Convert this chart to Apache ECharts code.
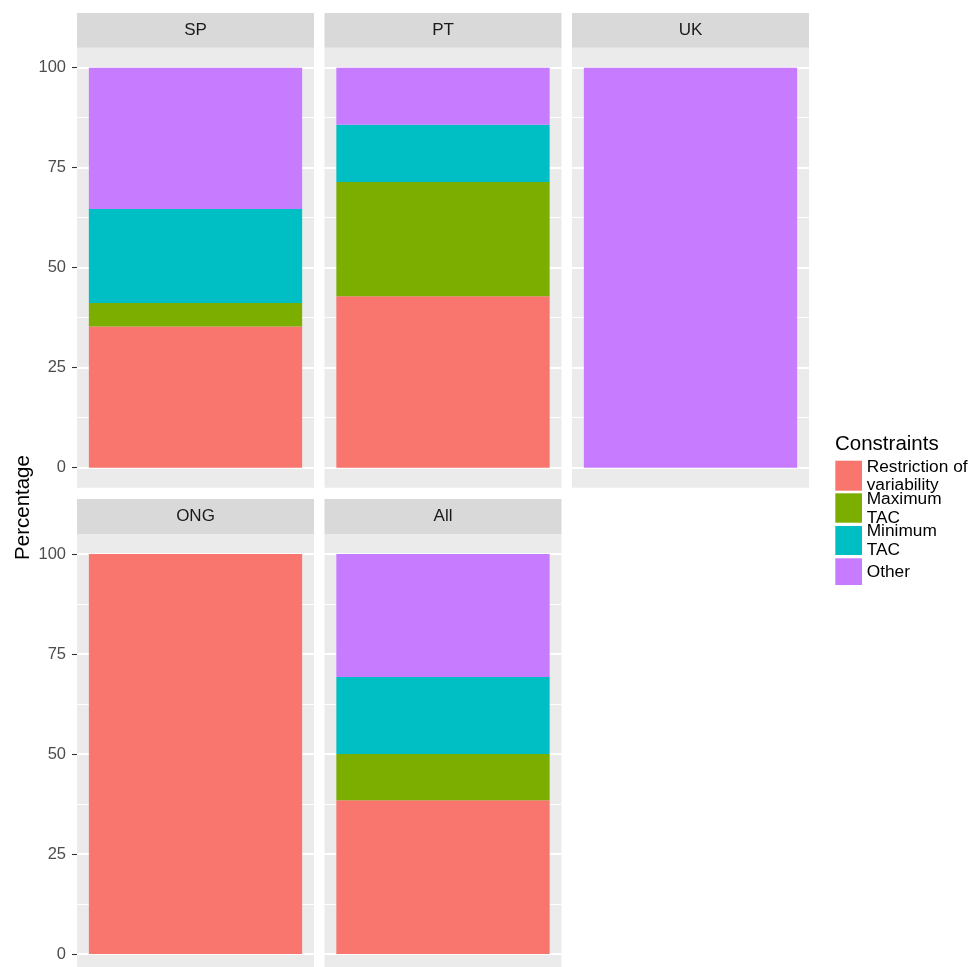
<!DOCTYPE html>
<html><head><meta charset="utf-8">
<script src="https://cdn.jsdelivr.net/npm/echarts@6/dist/echarts.min.js"></script>
<style>html,body{margin:0;padding:0;background:#fff}#c{width:975px;height:967px}</style>
</head><body><div id="c"></div>
<script>
// ---- data ----
const panels = ['SP', 'PT', 'UK', 'ONG', 'All'];
const constraints = ['Restriction of variability', 'Maximum TAC', 'Minimum TAC', 'Other'];
const legendLabels = ['Restriction of\nvariability', 'Maximum\nTAC', 'Minimum\nTAC', 'Other'];
const restriction = [35.29, 42.86, 0, 100, 38.46];
const maximumTAC  = [5.88, 28.57, 0, 0, 11.54];
const minimumTAC  = [23.53, 14.29, 0, 0, 19.23];
const other       = [35.29, 14.29, 100, 0, 30.77];
const majorTicks = [0, 25, 50, 75, 100];
const minorTicks = [12.5, 37.5, 62.5, 87.5];
const yTitle = 'Percentage';
const legendTitle = 'Constraints';

// ---- styling / layout ----
const colors = ['#F8766D', '#7CAE00', '#00BFC4', '#C77CFF'];
const seriesValues = [restriction, maximumTAC, minimumTAC, other];
const FONT = '"Liberation Sans", Arial, Helvetica, sans-serif';
const panelLeft = [77, 324.5, 572, 77, 324.5];
const panelTop = [47.7, 47.7, 47.7, 534, 534];
const panelH = [440, 440, 440, 433, 433];   // bottom row is cut by the page edge
const yMin = [-5, -5, -5, -3.25, -3.25];
const stripTop = [13, 13, 13, 499, 499];
const stripH = [34.7, 34.7, 34.7, 35, 35];
const panelW = 237;
const leftCol = [true, false, false, true, false];

const grids = [], xAxes = [], yAxes = [], series = [], graphics = [];
panels.forEach((p, i) => {
  grids.push({left: panelLeft[i], top: panelTop[i], width: panelW, height: panelH[i],
    show: true, backgroundColor: '#EBEBEB', borderWidth: 0, containLabel: false});
  xAxes.push({type: 'category', gridIndex: i, data: [p],
    axisLine: {show: false}, axisTick: {show: false}, axisLabel: {show: false}, splitLine: {show: false}});
  yAxes.push({type: 'value', gridIndex: i, min: yMin[i], max: 105,
    axisLine: {show: false}, splitLine: {show: false},
    axisTick: {show: leftCol[i], customValues: majorTicks, length: 5, lineStyle: {color: '#333333', width: 1.1}},
    axisLabel: {show: leftCol[i], customValues: majorTicks, margin: 11, color: '#4D4D4D', fontSize: 16.5, fontFamily: FONT}});
  const gridLineData = majorTicks.map(v => ({yAxis: v, lineStyle: {width: 2}}))
    .concat(minorTicks.map(v => ({yAxis: v, lineStyle: {width: 1}})));
  constraints.forEach((c, k) => {
    const s = {type: 'bar', name: c, xAxisIndex: i, yAxisIndex: i, stack: 'p' + i,
      barWidth: '90%', z: 2, itemStyle: {color: colors[k]},
      data: [seriesValues[k][i]], animation: false};
    if (k === 0) {
      s.markLine = {silent: true, symbol: ['none', 'none'], z: 1, animation: false,
        label: {show: false}, emphasis: {disabled: true},
        lineStyle: {color: '#FFFFFF', type: 'solid'}, data: gridLineData};
    }
    series.push(s);
  });
  // facet strip
  graphics.push({type: 'rect', shape: {x: panelLeft[i], y: stripTop[i], width: panelW, height: stripH[i]},
    style: {fill: '#D9D9D9'}, silent: true, z: 0});
  graphics.push({type: 'text', x: panelLeft[i] + panelW / 2, y: stripTop[i] + stripH[i] / 2, silent: true, z: 1,
    style: {text: p, fill: '#1A1A1A', fontSize: 17, fontFamily: FONT,
      align: 'center', textAlign: 'center', verticalAlign: 'middle', textVerticalAlign: 'middle'}});
});

// y-axis title
graphics.push({type: 'text', x: 23, y: 507.5, rotation: Math.PI / 2, silent: true,
  style: {text: yTitle, fill: '#000000', fontSize: 20.5, fontFamily: FONT,
    align: 'center', textAlign: 'center', verticalAlign: 'middle', textVerticalAlign: 'middle'}});

// legend
graphics.push({type: 'text', x: 835, y: 444.5, silent: true,
  style: {text: legendTitle, fill: '#000000', fontSize: 20.5, fontFamily: FONT,
    align: 'left', textAlign: 'left', verticalAlign: 'middle', textVerticalAlign: 'middle'}});
const keyY = [460.7, 493.3, 526, 558.3];
const keyH = [30, 29.4, 29, 26.7];
legendLabels.forEach((lab, k) => {
  graphics.push({type: 'rect', shape: {x: 835.3, y: keyY[k], width: 26.7, height: keyH[k]},
    style: {fill: colors[k]}, silent: true});
  graphics.push({type: 'text', x: 866.7, y: keyY[k] + keyH[k] / 2 + 0.5, silent: true,
    style: {text: lab, fill: '#000000', fontSize: 17.3, fontFamily: FONT, lineHeight: 18.7,
      align: 'left', textAlign: 'left', verticalAlign: 'middle', textVerticalAlign: 'middle'}});
});

const chart = echarts.init(document.getElementById('c'), null, {renderer: 'canvas'});
chart.setOption({
  animation: false,
  backgroundColor: '#FFFFFF',
  grid: grids, xAxis: xAxes, yAxis: yAxes, series: series, graphic: graphics
});
</script></body></html>
